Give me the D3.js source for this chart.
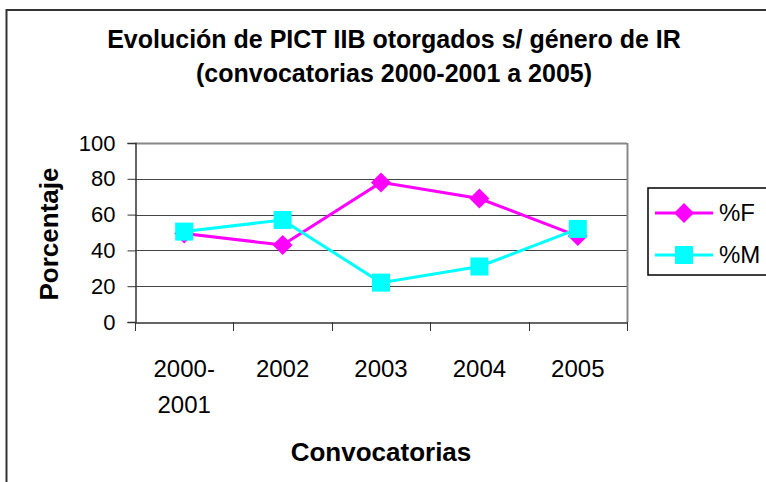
<!DOCTYPE html>
<html><head><meta charset="utf-8">
<script src="https://cdn.jsdelivr.net/npm/d3@7"></script>
<style>body{margin:0;background:#fff}svg{display:block}text{font-family:"Liberation Sans",Arial,sans-serif;fill:#000}</style>
</head><body>
<svg id="c" width="766" height="482"></svg>
<script>
const categories = [["2000-","2001"],["2002"],["2003"],["2004"],["2005"]];
const categoryKeys = ["2000-2001","2002","2003","2004","2005"];
const seriesF = [49.5, 43, 78, 69, 48];
const seriesM = [50.5, 57, 22, 31, 52];
const yTicks = [0, 20, 40, 60, 80, 100];
const seriesNames = ["%F", "%M"];
const titleLines = ["Evolución de PICT IIB otorgados s/ género de IR", "(convocatorias 2000-2001 a 2005)"];

const svg = d3.select("#c");
svg.append("rect").attr("x",6.5).attr("y",10).attr("width",790).attr("height",500)
  .attr("fill","#fff").attr("stroke","#333").attr("stroke-width",2);

const L=135, R=627, T=143, B=322;
const x = d3.scaleBand().domain(categoryKeys).range([L,R]);
const y = d3.scaleLinear().domain([0,100]).range([B,T]);

// gridlines
svg.append("g").selectAll("line").data(yTicks.filter(d=>d>0)).join("line")
  .attr("x1",L).attr("x2",R).attr("y1",d=>Math.round(y(d))+0.5).attr("y2",d=>Math.round(y(d))+0.5)
  .attr("stroke","#444").attr("stroke-width",1);
// right / top border
svg.append("line").attr("x1",R+0.5).attr("x2",R+0.5).attr("y1",T).attr("y2",B)
  .attr("stroke","#888").attr("stroke-width",2);
svg.append("line").attr("x1",L).attr("x2",R).attr("y1",T+0.5).attr("y2",T+0.5)
  .attr("stroke","#888").attr("stroke-width",2);

// y axis
const ya = svg.append("g").attr("transform",`translate(${L+0.5},0)`)
  .call(d3.axisLeft(y).tickValues(yTicks).tickSize(8).tickPadding(12));
ya.select(".domain").attr("stroke","#333").attr("stroke-width",1.5);
ya.selectAll(".tick line").attr("stroke","#333");
ya.selectAll("text").attr("font-size",22).attr("font-family","Liberation Sans, Arial, sans-serif");
ya.attr("font-size",22);

// x axis
const xa = svg.append("g").attr("transform",`translate(0,${B+0.5})`)
  .call(d3.axisBottom(x).tickSize(0).tickFormat(""));
xa.select(".domain").attr("stroke","#333").attr("stroke-width",1.5);
const bounds = categoryKeys.map(k=>x(k)).concat([R]);
svg.append("g").selectAll("line").data(bounds).join("line")
  .attr("x1",d=>Math.round(d)+0.5).attr("x2",d=>Math.round(d)+0.5).attr("y1",B).attr("y2",B+9)
  .attr("stroke","#333");
const xl = svg.append("g").selectAll("text").data(categories).join("text")
  .attr("text-anchor","middle").attr("font-size",24)
  .attr("x",(d,i)=>x(categoryKeys[i])+x.bandwidth()/2).attr("y",377);
xl.selectAll("tspan").data(d=>d).join("tspan")
  .attr("x",function(){return this.parentNode.getAttribute("x");})
  .attr("dy",(d,i)=>i===0?0:36).text(d=>d);

// titles
svg.append("g").selectAll("text").data(titleLines).join("text")
  .attr("x",394).attr("y",(d,i)=>48+i*34).attr("text-anchor","middle")
  .attr("font-size",25).attr("font-weight","bold").text(d=>d);
svg.append("text").attr("x",381).attr("y",461).attr("text-anchor","middle")
  .attr("font-size",26).attr("font-weight","bold").text("Convocatorias");
svg.append("text").attr("transform",`translate(58,234) rotate(-90)`).attr("text-anchor","middle")
  .attr("font-size",26).attr("font-weight","bold").text("Porcentaje");

// lines
const cx = i => x(categoryKeys[i]) + x.bandwidth()/2;
const line = d3.line().x((d,i)=>cx(i)).y(d=>y(d));
const colF="#ff00ff", colM="#00ffff";
svg.append("path").datum(seriesF).attr("d",line).attr("fill","none").attr("stroke",colF).attr("stroke-width",3);
svg.append("path").datum(seriesM).attr("d",line).attr("fill","none").attr("stroke",colM).attr("stroke-width",3);
const diamond = "M0,-10L10,0L0,10L-10,0Z";
svg.append("g").selectAll("path").data(seriesF).join("path")
  .attr("d",diamond).attr("fill",colF).attr("transform",(d,i)=>`translate(${cx(i)},${y(d)})`);
svg.append("g").selectAll("rect").data(seriesM).join("rect")
  .attr("x",(d,i)=>cx(i)-9).attr("y",d=>y(d)-9).attr("width",18).attr("height",18).attr("fill",colM);

// legend
const lg = svg.append("g");
lg.append("rect").attr("x",648).attr("y",188).attr("width",140).attr("height",87)
  .attr("fill","#fff").attr("stroke","#000").attr("stroke-width",1.5);
const rows=[{n:seriesNames[0],c:colF,y:213,m:"d"},{n:seriesNames[1],c:colM,y:255,m:"s"}];
rows.forEach(r=>{
  lg.append("line").attr("x1",655).attr("x2",713).attr("y1",r.y).attr("y2",r.y).attr("stroke",r.c).attr("stroke-width",3);
  if(r.m==="d") lg.append("path").attr("d",diamond).attr("fill",r.c).attr("transform",`translate(684,${r.y})`);
  else lg.append("rect").attr("x",675).attr("y",r.y-9).attr("width",18).attr("height",18).attr("fill",r.c);
  lg.append("text").attr("x",719).attr("y",r.y+8).attr("font-size",24).text(r.n);
});
</script>
</body></html>
